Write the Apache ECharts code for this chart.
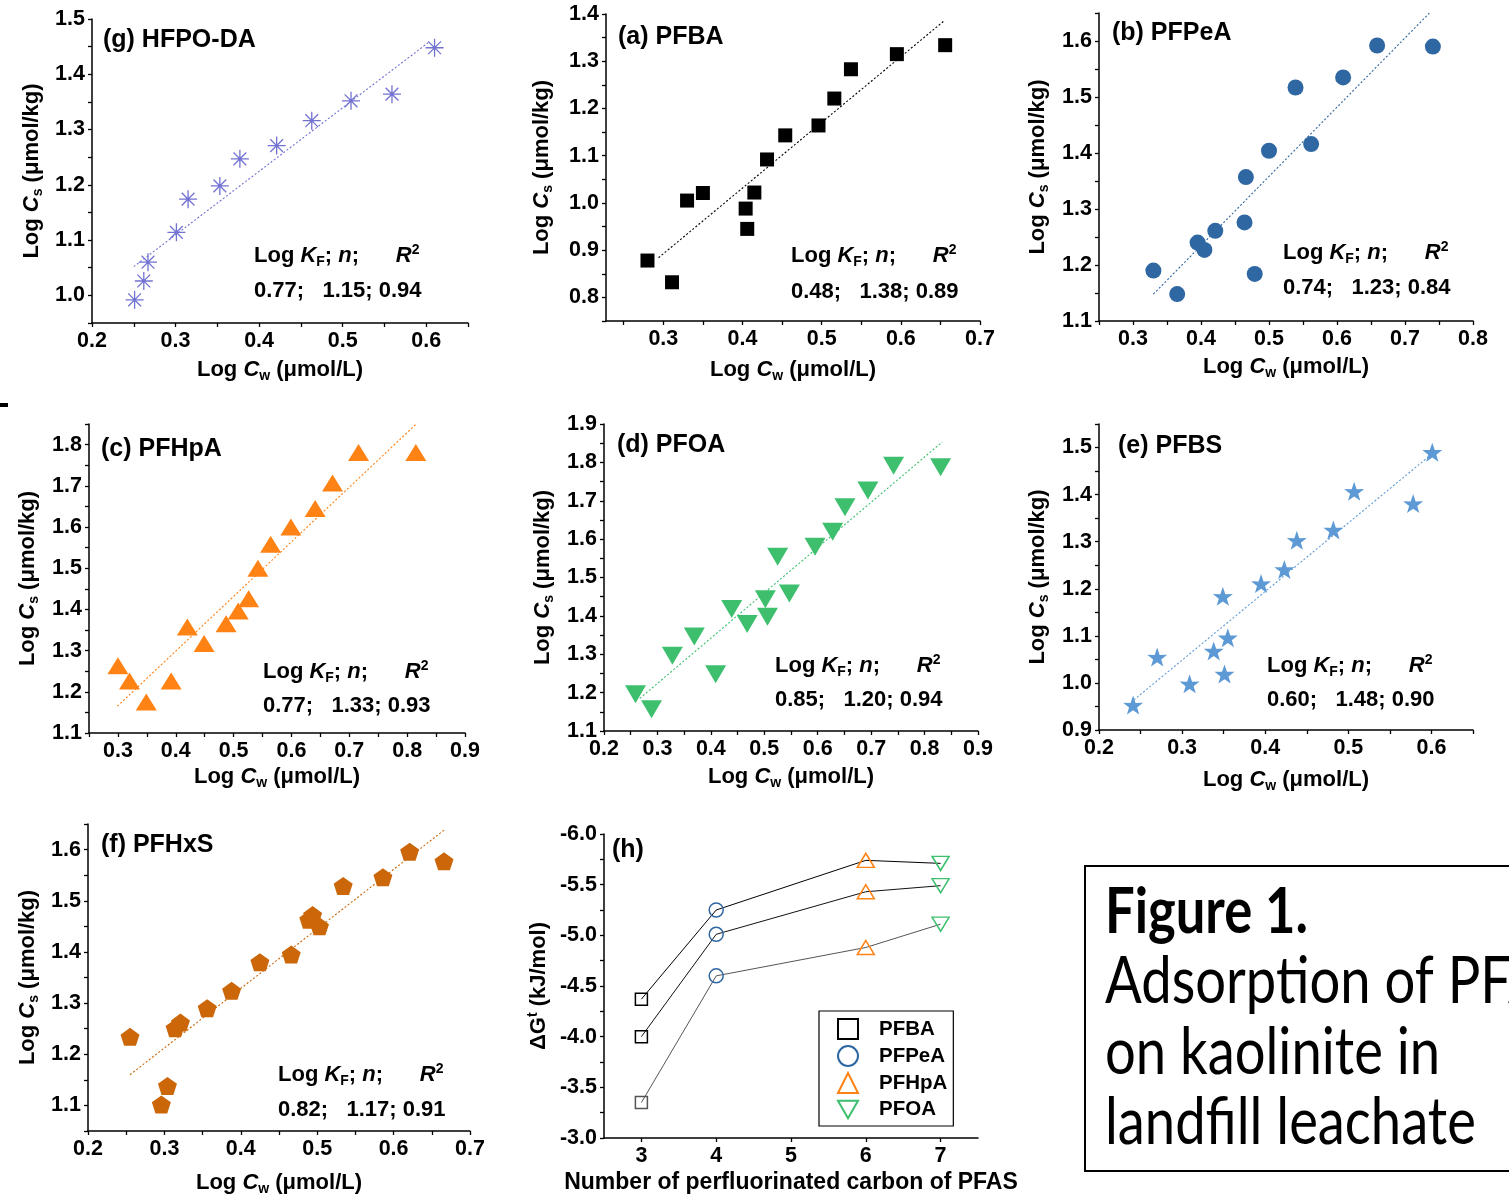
<!DOCTYPE html>
<html><head><meta charset="utf-8">
<script src="https://cdn.jsdelivr.net/npm/echarts@6.0.0/dist/echarts.min.js"></script>
<style>html,body{margin:0;padding:0;background:#fff}#c{width:1509px;height:1197px}</style>
</head><body><div id="c"></div>
<script>
const FONT = '"Liberation Sans", Arial, sans-serif';

// ---------- DATA ----------
// (g) HFPO-DA
const gX = [0.251,0.262,0.267,0.301,0.315,0.353,0.377,0.421,0.463,0.510,0.559,0.610];
const gY = [0.992,1.026,1.060,1.114,1.174,1.198,1.247,1.271,1.316,1.352,1.364,1.448];
const gFitX = [0.250,0.604], gFitY = [1.052,1.459];
// (a) PFBA
const aX = [0.280,0.311,0.330,0.350,0.404,0.406,0.415,0.431,0.454,0.496,0.516,0.537,0.595,0.656];
const aY = [0.878,0.832,1.005,1.021,0.988,0.945,1.022,1.092,1.143,1.164,1.221,1.283,1.315,1.334];
const aFitX = [0.294,0.655], aFitY = [0.884,1.386];
// (b) PFPeA
const bX = [0.330,0.365,0.395,0.405,0.421,0.464,0.466,0.479,0.500,0.539,0.562,0.609,0.659,0.741];
const bY = [1.190,1.148,1.240,1.227,1.261,1.276,1.357,1.184,1.404,1.517,1.416,1.535,1.592,1.590];
const bFitX = [0.330,0.736], bFitY = [1.148,1.650];
// (c) PFHpA
const cX = [0.300,0.320,0.349,0.392,0.420,0.449,0.487,0.508,0.526,0.542,0.564,0.599,0.641,0.671,0.716,0.815];
const cY = [1.263,1.226,1.175,1.226,1.357,1.317,1.365,1.396,1.426,1.500,1.558,1.600,1.645,1.707,1.781,1.781];
const cFitX = [0.299,0.815], cFitY = [1.165,1.849];
// (d) PFOA
const dX = [0.259,0.289,0.328,0.369,0.409,0.439,0.468,0.502,0.506,0.525,0.547,0.595,0.628,0.651,0.694,0.742,0.830];
const dY = [1.196,1.157,1.296,1.346,1.248,1.418,1.379,1.443,1.398,1.554,1.458,1.580,1.619,1.683,1.727,1.791,1.787];
const dFitX = [0.267,0.833], dFitY = [1.185,1.853];
// (e) PFBS
const eX = [0.241,0.270,0.309,0.338,0.351,0.355,0.349,0.395,0.423,0.438,0.482,0.507,0.578,0.601];
const eY = [0.953,1.055,0.998,1.068,1.019,1.096,1.184,1.211,1.241,1.303,1.325,1.407,1.381,1.490];
const eFitX = [0.242,0.601], eFitY = [0.964,1.487];
// (f) PFHxS
const fX = [0.255,0.296,0.304,0.314,0.321,0.356,0.388,0.425,0.466,0.489,0.494,0.503,0.534,0.586,0.621,0.666];
const fY = [1.234,1.102,1.138,1.251,1.262,1.290,1.324,1.380,1.395,1.463,1.472,1.450,1.529,1.546,1.596,1.577];
const fFitX = [0.255,0.666], fFitY = [1.160,1.638];
// (h) free energy
const hCarbons = [3,4,6,7];
const hNames = ['PFBA','PFPeA','PFHpA','PFOA'];
const hLine1 = [-4.37,-5.25,-5.74,-5.71];
const hLine2 = [-4.00,-5.01,-5.43,-5.49];
const hLine3 = [-3.35,-4.60,-4.88,-5.11];

// tick labels
const gXTicks=[0.2,0.3,0.4,0.5,0.6], gYTicks=[1.0,1.1,1.2,1.3,1.4,1.5];
const aXTicks=[0.3,0.4,0.5,0.6,0.7], aYTicks=[0.8,0.9,1.0,1.1,1.2,1.3,1.4];
const bXTicks=[0.3,0.4,0.5,0.6,0.7,0.8], bYTicks=[1.1,1.2,1.3,1.4,1.5,1.6];
const cXTicks=[0.3,0.4,0.5,0.6,0.7,0.8,0.9], cYTicks=[1.1,1.2,1.3,1.4,1.5,1.6,1.7,1.8];
const dXTicks=[0.2,0.3,0.4,0.5,0.6,0.7,0.8,0.9], dYTicks=[1.1,1.2,1.3,1.4,1.5,1.6,1.7,1.8,1.9];
const eXTicks=[0.2,0.3,0.4,0.5,0.6], eYTicks=[0.9,1.0,1.1,1.2,1.3,1.4,1.5];
const fXTicks=[0.2,0.3,0.4,0.5,0.6,0.7], fYTicks=[1.1,1.2,1.3,1.4,1.5,1.6];
const hXTicks=[3,4,5,6,7], hYTicks=[-6.0,-5.5,-5.0,-4.5,-4.0,-3.5,-3.0];

const titles = ['(g) HFPO-DA','(a) PFBA','(b) PFPeA','(c) PFHpA','(d) PFOA','(e) PFBS','(f) PFHxS','(h)'];
const fitParams = ['0.77;   1.15; 0.94','0.48;   1.38; 0.89','0.74;   1.23; 0.84','0.77;   1.33; 0.93',
                   '0.85;   1.20; 0.94','0.60;   1.48; 0.90','0.82;   1.17; 0.91'];

// ---------- LAYOUT ----------
const STAR = 'path://M50,0 L61.8,35.1 L97.6,34.5 L69.1,56.7 L79.4,90.5 L50,70 L20.6,90.5 L30.9,56.7 L2.4,34.5 L38.2,35.1 Z';
const PENT = 'path://M50,0 L97.6,34.5 L79.4,90.5 L20.6,90.5 L2.4,34.5 Z';
const TRIDOWN = 'path://M0,0 L20,0 L10,17.3 Z';
const AST = 'path://M10,0 L10,20 M0,10 L20,10 M2.9,2.9 L17.1,17.1 M17.1,2.9 L2.9,17.1';

const panels = [
 {x:gX,y:gY,fx:gFitX,fy:gFitY,xt:gXTicks,yt:gYTicks,box:[92,19,376,304],xr:[0.2,0.65],yr:[0.95,1.5],col:'#7272d2',sym:AST,size:18,hollow:true,xg:34,yg:47,title:[103,40],fit:[254,256,291]},
 {x:aX,y:aY,fx:aFitX,fy:aFitY,xt:aXTicks,yt:aYTicks,box:[606,14,374,307],xr:[0.2276,0.7],yr:[0.75,1.4],col:'#000000',sym:'rect',size:14,xg:36,yg:51,title:[618,37],fit:[791,256,292]},
 {x:bX,y:bY,fx:bFitX,fy:bFitY,xt:bXTicks,yt:bYTicks,box:[1099,13,374,308],xr:[0.25,0.8],yr:[1.1,1.65],col:'#2f67a2',sym:'circle',size:16,xg:33,yg:48,title:[1112,33],fit:[1283,253,288]},
 {x:cX,y:cY,fx:cFitX,fy:cFitY,xt:cXTicks,yt:cYTicks,box:[89,424,376,309],xr:[0.25,0.9],yr:[1.1,1.85],col:'#ff8214',sym:'triangle',size:[21,17],xg:31,yg:48,title:[101,449],fit:[263,672,706]},
 {x:dX,y:dY,fx:dFitX,fy:dFitY,xt:dXTicks,yt:dYTicks,box:[604,424,374,307],xr:[0.2,0.9],yr:[1.1,1.9],col:'#3dbf6e',sym:TRIDOWN,size:[21,18],xg:33,yg:48,title:[617,445],fit:[775,666,700]},
 {x:eX,y:eY,fx:eFitX,fy:eFitY,xt:eXTicks,yt:eYTicks,box:[1099,424,374,306],xr:[0.2,0.65],yr:[0.9,1.55],col:'#5d9ad5',sym:STAR,size:[20,19],xg:37,yg:48,title:[1118,446],fit:[1267,666,700]},
 {x:fX,y:fY,fx:fFitX,fy:fFitY,xt:fXTicks,yt:fYTicks,box:[88,824,382,308],xr:[0.2,0.7],yr:[1.05,1.65],col:'#cb6609',sym:PENT,size:[19,18],xg:39,yg:47,title:[101,845],fit:[278,1075,1110]}
];

function steps(min, max, step){ const out=[]; const n=Math.round((max-min)/step); for(let i=0;i<=n;i++) out.push(+(min+i*step).toFixed(6)); return out; }
function ceilTo(v, s){ return +(Math.ceil(v/s-1e-9)*s).toFixed(6); }

const TICK_FS = 21.5, NAME_FS = 22, SUB_FS = 14;
const labelStyle = {color:'#000', fontSize:TICK_FS, fontWeight:'bold', fontFamily:FONT};
const richName = {
  i:{fontStyle:'italic',fontWeight:'bold',fontSize:NAME_FS,fontFamily:FONT,color:'#000'},
  sub:{fontWeight:'bold',fontSize:SUB_FS,fontFamily:FONT,color:'#000',padding:[12,0,0,0]},
  sup:{fontWeight:'bold',fontSize:SUB_FS,fontFamily:FONT,color:'#000',padding:[0,0,12,0]}
};
const nameStyle = {color:'#000', fontSize:NAME_FS, fontWeight:'bold', fontFamily:FONT, rich:richName};

function axisCommon(){ return {
  type:'value', splitLine:{show:false},
  axisLine:{show:true,onZero:false,lineStyle:{color:'#000',width:1.5}},
  axisTick:{show:true,inside:false,length:4,lineStyle:{color:'#000',width:1.3}},
  axisLabel:Object.assign({margin:7},labelStyle),
  nameLocation:'middle', nameTextStyle:nameStyle
};}

const FIT_FS = 22;
const fitRich = {
  i:{fontStyle:'italic',fontWeight:'bold',fontSize:FIT_FS,fontFamily:FONT,fill:'#000'},
  sub:{fontWeight:'bold',fontSize:SUB_FS,fontFamily:FONT,fill:'#000',padding:[12,0,0,0]},
  sup:{fontWeight:'bold',fontSize:SUB_FS,fontFamily:FONT,fill:'#000',padding:[0,0,12,0]}
};

const grids=[], xAxes=[], yAxes=[], series=[], graphics=[];
panels.forEach((p,i)=>{
  grids.push({left:p.box[0],top:p.box[1],width:p.box[2],height:p.box[3]});
  const xa = axisCommon();
  Object.assign(xa,{gridIndex:i,min:p.xr[0],max:p.xr[1],name:'Log {i|C}{sub|w} (μmol/L)',nameGap:p.xg});
  xa.axisTick.customValues = steps(ceilTo(p.xr[0],0.05),p.xr[1],0.05);
  xa.axisLabel.customValues = p.xt; xa.axisLabel.formatter = v=>(+v).toFixed(1);
  const ya = axisCommon();
  Object.assign(ya,{gridIndex:i,min:p.yr[0],max:p.yr[1],name:'Log {i|C}{sub|s} (μmol/kg)',nameGap:p.yg});
  ya.axisTick.customValues = steps(ceilTo(p.yr[0],0.05),p.yr[1],0.05);
  ya.axisLabel.customValues = p.yt; ya.axisLabel.formatter = v=>(+v).toFixed(1);
  xAxes.push(xa); yAxes.push(ya);
  series.push({type:'line',xAxisIndex:i,yAxisIndex:i,data:p.fx.map((v,k)=>[v,p.fy[k]]),symbol:'none',silent:true,
    lineStyle:{color:p.col,width:1.1,type:[2,2]},z:2});
  series.push({type:'scatter',xAxisIndex:i,yAxisIndex:i,data:p.x.map((v,k)=>[v,p.y[k]]),symbol:p.sym,symbolSize:p.size,
    itemStyle: p.hollow ? {color:'transparent',borderColor:p.col,borderWidth:1.3,opacity:1} : {color:p.col,opacity:1},z:3});
  graphics.push({type:'text',x:p.title[0],y:p.title[1],style:{text:titles[i],fontSize:25,fontWeight:'bold',fontFamily:FONT,fill:'#000',verticalAlign:'middle',align:'left'}});
  graphics.push({type:'text',x:p.fit[0],y:p.fit[1],style:{text:'Log {i|K}{sub|F}; {i|n};      {i|R}{sup|2}',fontSize:FIT_FS,fontWeight:'bold',fontFamily:FONT,fill:'#000',verticalAlign:'middle',align:'left',rich:fitRich}});
  graphics.push({type:'text',x:p.fit[0],y:p.fit[2],style:{text:fitParams[i],fontSize:FIT_FS,fontWeight:'bold',fontFamily:FONT,fill:'#000',verticalAlign:'middle',align:'left'}});
});

// panel (h)
const hi = panels.length;
grids.push({left:604,top:834,width:374,height:304});
const hx = axisCommon();
Object.assign(hx,{gridIndex:hi,min:2.5,max:7.5,name:'Number of perfluorinated carbon of PFAS',nameGap:33});
hx.nameTextStyle = Object.assign({}, nameStyle, {fontSize:23});
hx.axisTick.customValues = hXTicks; hx.axisLabel.customValues = hXTicks; hx.axisLabel.formatter = v=>String(Math.round(v));
const hy = axisCommon();
Object.assign(hy,{gridIndex:hi,min:-6,max:-3,inverse:true,name:'ΔG{sup|t} (kJ/mol)',nameGap:52});
hy.axisTick.customValues = steps(-6,-3,0.25); hy.axisLabel.customValues = hYTicks; hy.axisLabel.formatter = v=>(+v).toFixed(1);
xAxes.push(hx); yAxes.push(hy);
const hLineCols = ['#000','#111','#555'];
[hLine1,hLine2,hLine3].forEach((ln,k)=>{
  series.push({type:'line',xAxisIndex:hi,yAxisIndex:hi,data:hCarbons.map((c,j)=>[c,ln[j]]),symbol:'none',silent:true,
    lineStyle:{color:hLineCols[k],width:1},z:2});
});
const hCols = ['#000','#2f67a2','#ff8214','#3dbf6e'];
const hSyms = ['rect','circle','triangle',TRIDOWN];
const hSizes = [[12,12],[14,14],[17,14],[17,14]];
hNames.forEach((nm,j)=>{
  series.push({type:'scatter',name:nm,xAxisIndex:hi,yAxisIndex:hi,symbol:hSyms[j],symbolSize:hSizes[j],
    data:[hLine1,hLine2,hLine3].map((ln,k)=>{
      const d={value:[hCarbons[j],ln[j]]};
      if(j===0 && k===2) d.itemStyle={borderColor:'#555'};
      return d;}),
    itemStyle:{color:'rgba(255,255,255,0)',borderColor:hCols[j],borderWidth:1.5,opacity:1},z:3});
});
graphics.push({type:'text',x:612,y:850,style:{text:'(h)',fontSize:25,fontWeight:'bold',fontFamily:FONT,fill:'#000',verticalAlign:'middle',align:'left'}});

// small dash at left edge
graphics.push({type:'rect',shape:{x:0,y:403,width:8,height:4},style:{fill:'#000'}});

// caption box
graphics.push({type:'rect',shape:{x:1085,y:866,width:460,height:305},style:{fill:'none',stroke:'#000',lineWidth:2}});
(function(){
  const cv=document.createElement('canvas').getContext('2d');
  const fam='Lato, "Open Sans", sans-serif';
  cv.font='bold 50px '+fam; const wb=cv.measureText('Figure 1.').width;
  const fsB=50*203/wb;
  cv.font='50px '+fam; const wr=cv.measureText('landfill leachate').width;
  const fsR=50*371/wr;
  cv.font='bold '+fsB+'px '+fam; const capB=cv.measureText('F').actualBoundingBoxAscent||fsB*0.72;
  cv.font=fsR+'px '+fam; const capR=cv.measureText('l').actualBoundingBoxAscent||fsR*0.72;
  const syB=45/capB, syR=48/capR;
  const lines=[['Figure 1.',true,945],['Adsorption of PFAS',false,1014],['on kaolinite in',false,1085],['landfill leachate',false,1155]];
  lines.forEach(l=>{
    graphics.push({type:'text',x:1105,y:l[2],scaleY:l[1]?syB:syR,
      style:{text:l[0],fontFamily:fam,fontSize:l[1]?fsB:fsR,fontWeight:l[1]?'bold':'normal',fill:'#000',verticalAlign:'bottom',align:'left'}});
  });
})();

const chart = echarts.init(document.getElementById('c'),null,{renderer:'canvas'});
chart.setOption({
  backgroundColor:'#fff', animation:false,
  grid:grids, xAxis:xAxes, yAxis:yAxes, series:series, graphic:graphics,
  legend:{data:hNames,orient:'vertical',left:819,top:1011,padding:[7,6,6,18],itemGap:5,itemWidth:20,itemHeight:20,
    borderColor:'#000',borderWidth:1.2,textStyle:{color:'#000',fontSize:20.5,fontWeight:'bold',fontFamily:FONT,padding:[0,0,0,16]}}
});
</script></body></html>
